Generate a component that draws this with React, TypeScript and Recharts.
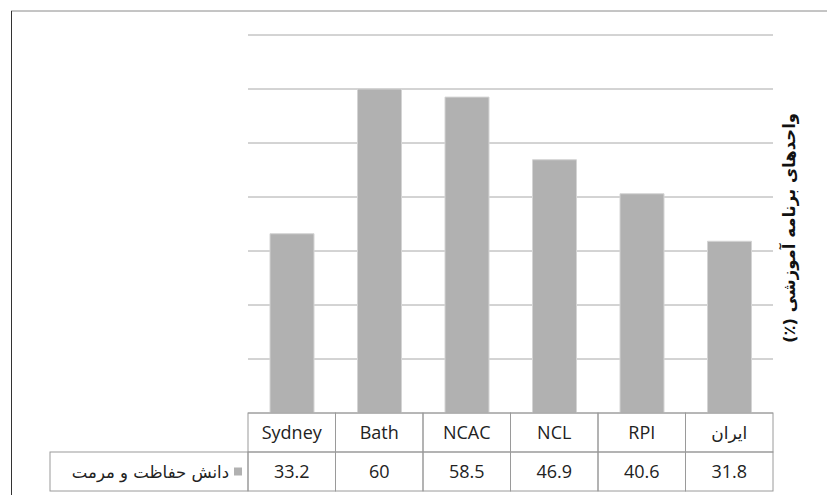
import { BarChart, Bar, XAxis, YAxis, CartesianGrid } from "recharts";

const categories = ["Sydney", "Bath", "NCAC", "NCL", "RPI", "ایران"];
const conservationValues = [33.2, 60, 58.5, 46.9, 40.6, 31.8];
const yTicks = [0, 10, 20, 30, 40, 50, 60, 70];
const seriesName = "دانش حفاظت و مرمت";
const yTitle = "واحدهای برنامه آموزشی (٪)";

const W = 827;
const H = 495;
const LEFT = 248;
const TOP = 35;
const AXIS_R = 54;
const AXIS_B = 82;
const PLOT_W = W - LEFT - AXIS_R;
const TABLE_TOP = H - AXIS_B;
const ROW_H = 39;
const CELL_W = PLOT_W / categories.length;
const BORDER = "#9a9a9a";
const BAR = "#b1b1b1";

const data = categories.map((name, i) => ({ name, value: conservationValues[i] }));

// header cell + value cell under each bar; first tick also draws the legend cell
const TableTick = ({ x, payload }: any) => {
  const i = payload.index;
  const left = x - CELL_W / 2;
  const latin = /^[A-Za-z]/.test(payload.value);
  return (
    <g>
      <rect x={left} y={TABLE_TOP} width={CELL_W} height={ROW_H} fill="none" stroke={BORDER} />
      <rect x={left} y={TABLE_TOP + ROW_H} width={CELL_W} height={ROW_H} fill="none" stroke={BORDER} />
      <text
        x={x}
        y={TABLE_TOP + ROW_H / 2 + 6}
        textAnchor="middle"
        fontSize={latin ? 18 : 17}
        fontFamily={latin ? "Open Sans" : "DejaVu Sans"}
        fill="#222"
      >
        {payload.value}
      </text>
      <text
        x={x}
        y={TABLE_TOP + ROW_H * 1.5 + 6}
        textAnchor="middle"
        fontSize={18}
        fontFamily="Open Sans"
        fill="#222"
      >
        {conservationValues[i]}
      </text>
      {i === 0 && (
        <g>
          <rect x={50} y={TABLE_TOP + ROW_H} width={left - 50} height={ROW_H} fill="none" stroke={BORDER} />
          <rect x={left - 14} y={TABLE_TOP + ROW_H * 1.5 - 4} width={8} height={8} fill={BAR} />
          <text
            x={left - 19}
            y={TABLE_TOP + ROW_H * 1.5 + 6}
            textAnchor="end"
            fontSize={16.5}
            fontFamily="DejaVu Sans"
            fill="#222"
          >
            {seriesName}
          </text>
        </g>
      )}
    </g>
  );
};

const AxisTitle = ({ viewBox }: any) => {
  const cx = viewBox.x + 16;
  const cy = viewBox.y + viewBox.height / 2 + 4;
  return (
    <text
      x={cx}
      y={cy}
      transform={`rotate(-90 ${cx} ${cy})`}
      textAnchor="middle"
      dominantBaseline="central"
      direction="rtl"
      fontSize={16.5}
      fontWeight="bold"
      fontFamily="DejaVu Sans"
      fill="#111"
    >
      {yTitle}
    </text>
  );
};

export default function App() {
  return (
    <div style={{ position: "fixed", left: 0, top: 0, width: W, height: H, background: "#fff", overflow: "hidden" }}>
      <svg width={W} height={H} style={{ position: "absolute", left: 0, top: 0 }}>
        <line x1={11} y1={11} x2={W} y2={11} stroke="#8a8a8a" />
        <line x1={11.5} y1={11} x2={11.5} y2={H} stroke="#333" />
      </svg>
      <div style={{ position: "absolute", left: 0, top: 0 }}>
        <BarChart width={W} height={H} data={data} margin={{ top: TOP, right: 0, bottom: 0, left: LEFT }}>
          <CartesianGrid horizontal vertical={false} stroke="#a8a8a8" />
          <XAxis
            dataKey="name"
            height={AXIS_B}
            axisLine={false}
            tickLine={false}
            interval={0}
            tick={<TableTick />}
          />
          <YAxis
            orientation="right"
            width={AXIS_R}
            domain={[0, 70]}
            ticks={yTicks}
            tick={() => <g />}
            axisLine={false}
            tickLine={false}
            label={<AxisTitle />}
          />
          <Bar
            dataKey="value"
            fill={BAR}
            stroke="#d4d4d4"
            barSize={44}
            isAnimationActive={false}
          />
        </BarChart>
      </div>
    </div>
  );
}
